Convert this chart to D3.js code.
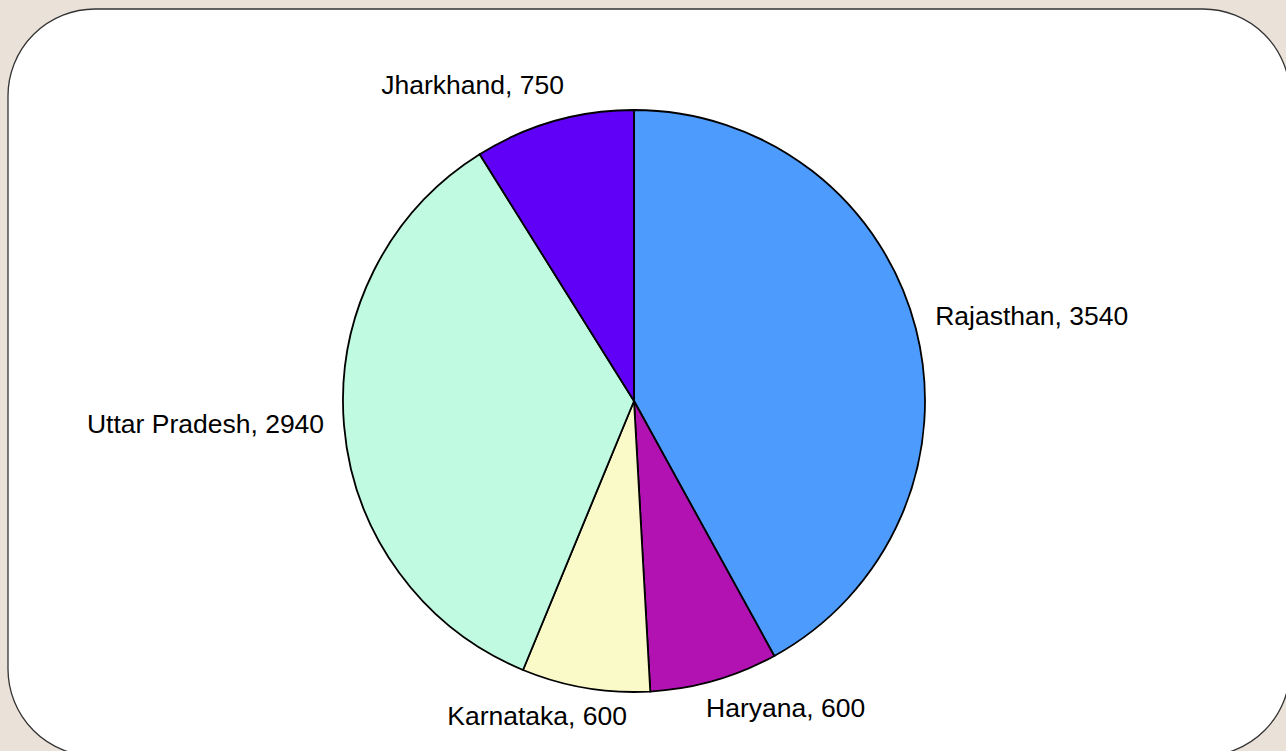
<!DOCTYPE html>
<html>
<head>
<meta charset="utf-8">
<script src="https://cdn.jsdelivr.net/npm/d3@7"></script>
<style>
    html, body { margin: 0; padding: 0; background: #eae1d8; overflow: hidden; }
    svg { display: block; }
</style>
</head>
<body>
<div id="container"></div>
<script>
const states = ['Rajasthan', 'Haryana', 'Karnataka', 'Uttar Pradesh', 'Jharkhand'];
const values = [3540, 600, 600, 2940, 750];
const colors = ['#4d9bfd', '#b112b1', '#fafac8', '#c0fae0', '#6100f6'];

const width = 1286;
const height = 751;
const cx = 634;
const cy = 401;
const radius = 291;
const labelGap = 20;

const svg = d3.select('#container')
    .append('svg')
    .attr('width', width)
    .attr('height', height);

// white rounded panel, runs off the right and bottom edges
svg.append('rect')
    .attr('x', 8)
    .attr('y', 9)
    .attr('width', 1282)
    .attr('height', 747)
    .attr('rx', 87)
    .attr('fill', '#fff')
    .attr('stroke', '#333')
    .attr('stroke-width', 1.3);

const data = states.map((s, i) => ({ name: s, value: values[i], color: colors[i] }));

const pie = d3.pie()
    .value(d => d.value)
    .sort(null)
    .startAngle(0)
    .endAngle(2 * Math.PI);

const arc = d3.arc().innerRadius(0).outerRadius(radius);

const g = svg.append('g').attr('transform', `translate(${cx},${cy})`);

const arcs = pie(data);

g.selectAll('path')
    .data(arcs)
    .join('path')
    .attr('d', arc)
    .attr('fill', d => d.data.color)
    .attr('stroke', '#000')
    .attr('stroke-width', 1.8)
    .attr('stroke-linejoin', 'round');

// labels sit just outside the rim, pushed out by part of their box
const labels = g.selectAll('text')
    .data(arcs)
    .join('text')
    .attr('font-family', 'Liberation Sans, Arial, sans-serif')
    .attr('font-size', 26.5)
    .attr('fill', '#000')
    .attr('text-anchor', 'middle')
    .attr('dy', '0.17em')
    .text(d => `${d.data.name}, ${d.data.value}`);

labels.each(function (d) {
    const a = (d.startAngle + d.endAngle) / 2;
    const ux = Math.sin(a);
    const uy = -Math.cos(a);
    const w = this.getComputedTextLength();
    const h = 27;
    const push = Math.min(1, 3 * Math.abs(ux));
    const x = ux * (radius + labelGap) + Math.sign(ux) * push * w / 2;
    const y = uy * (radius + labelGap) + uy * h / 2;
    d3.select(this).attr('x', x).attr('y', y);
});
</script>
</body>
</html>
